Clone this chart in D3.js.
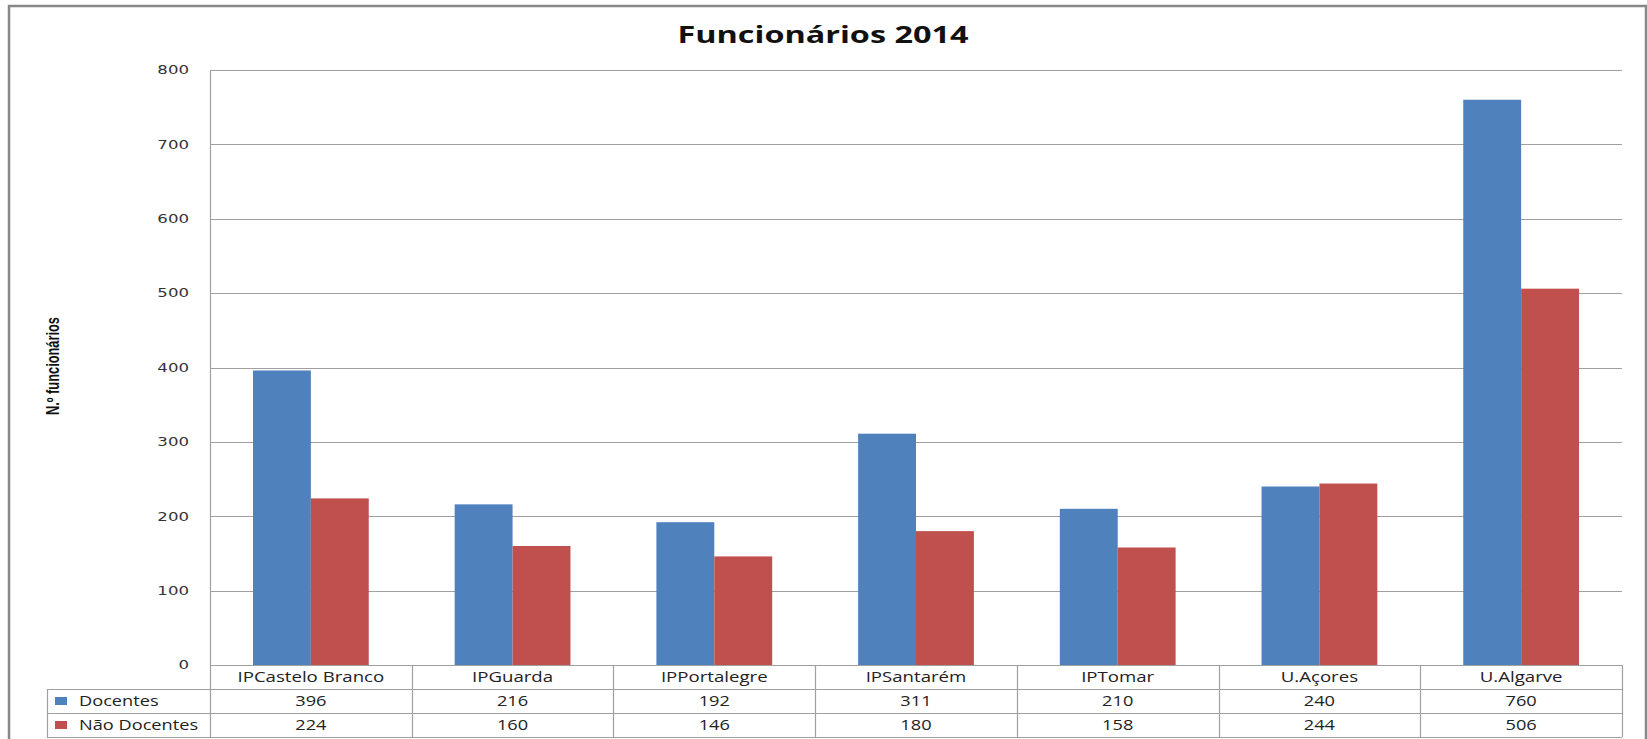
<!DOCTYPE html>
<html>
<head>
<meta charset="utf-8">
<script src="https://cdn.jsdelivr.net/npm/d3@7"></script>
<style>
  body { margin: 0; background: #fff; }
  svg { display: block; }
</style>
</head>
<body>
<div id="viz"></div>
<script>
var width = 1647,
    height = 739;

// data
var categories = ["IPCastelo Branco", "IPGuarda", "IPPortalegre", "IPSantarém", "IPTomar", "U.Açores", "U.Algarve"];
var seriesNames = ["Docentes", "Não Docentes"];
var docentes = [396, 216, 192, 311, 210, 240, 760];
var naoDocentes = [224, 160, 146, 180, 158, 244, 506];
var yTicks = [0, 100, 200, 300, 400, 500, 600, 700, 800];

var colors = {"Docentes": "#4F81BD", "Não Docentes": "#C0504D"};
var gridColor = "#a0a0a0";

// plot area (window.top is reserved, so no plain "top")
var plotLeft = 210, plotRight = 1622, plotTop = 70, plotBottom = 665;
var rowH = 24; // data table row height
var tableLeft = 47;

var svg = d3.select("#viz").append("svg")
    .attr("width", width)
    .attr("height", height);

// outer chart border
svg.append("rect")
    .attr("x", 9).attr("y", 6)
    .attr("width", 1637).attr("height", 745)
    .attr("fill", "#fff")
    .attr("stroke", "#888")
    .attr("stroke-width", 2.5);

var x = d3.scaleBand().domain(categories).range([plotLeft, plotRight]);
var bw = x.bandwidth();
var gap = bw * 0.213;
var x1 = d3.scaleBand().domain(seriesNames).range([gap, bw - gap]);
var y = d3.scaleLinear().domain([0, 800]).range([plotBottom, plotTop]);

// make text wider, the original picture is stretched horizontally
function stretch(sel, k) {
    sel.each(function() {
        var w = this.getComputedTextLength();
        d3.select(this).attr("textLength", w * k).attr("lengthAdjust", "spacingAndGlyphs");
    });
}

// gridlines
svg.append("g")
    .selectAll("line")
    .data(yTicks.filter(function(d) { return d > 0; }))
    .enter().append("line")
    .attr("x1", plotLeft).attr("x2", plotRight)
    .attr("y1", function(d) { return Math.round(y(d)) + 0.5; })
    .attr("y2", function(d) { return Math.round(y(d)) + 0.5; })
    .attr("stroke", gridColor)
    .attr("stroke-width", 1.2);

// tick labels
var tl = svg.append("g")
    .selectAll("text")
    .data(yTicks)
    .enter().append("text")
    .attr("x", 189)
    .attr("y", function(d) { return y(d); })
    .attr("dy", "0.36em")
    .attr("text-anchor", "end")
    .style("font-family", "'DejaVu Sans', Verdana, sans-serif")
    .style("font-size", "12px")
    .attr("fill", "#333")
    .text(function(d) { return d; });
stretch(tl, 1.38);

// bars
var rows = categories.map(function(c, i) {
    return {cat: c, values: [
        {key: "Docentes", value: docentes[i]},
        {key: "Não Docentes", value: naoDocentes[i]}
    ]};
});

svg.append("g")
    .selectAll("g")
    .data(rows)
    .enter().append("g")
    .attr("transform", function(d) { return "translate(" + x(d.cat) + ",0)"; })
    .selectAll("rect")
    .data(function(d) { return d.values; })
    .enter().append("rect")
    .attr("x", function(d) { return x1(d.key); })
    .attr("width", x1.bandwidth())
    .attr("y", function(d) { return y(d.value); })
    .attr("height", function(d) { return y(0) - y(d.value); })
    .attr("fill", function(d) { return colors[d.key]; });

// data table
var tbl = svg.append("g").attr("fill", "none").attr("stroke", gridColor).attr("stroke-width", 1.2);
// axis / top of table
tbl.append("line").attr("x1", plotLeft).attr("x2", plotRight)
    .attr("y1", plotBottom + 0.5).attr("y2", plotBottom + 0.5);
[1, 2, 3].forEach(function(r) {
    tbl.append("line")
        .attr("x1", tableLeft).attr("x2", plotRight)
        .attr("y1", plotBottom + r * rowH + 0.5).attr("y2", plotBottom + r * rowH + 0.5);
});
// vertical lines
tbl.append("line").attr("x1", plotLeft + 0.5).attr("x2", plotLeft + 0.5)
    .attr("y1", plotTop).attr("y2", plotBottom + 3 * rowH);
tbl.selectAll("line.col")
    .data(categories.slice(1).map(function(c) { return x(c); }).concat([plotRight]))
    .enter().append("line")
    .attr("class", "col")
    .attr("x1", function(d) { return Math.round(d) + 0.5; })
    .attr("x2", function(d) { return Math.round(d) + 0.5; })
    .attr("y1", plotBottom).attr("y2", plotBottom + 3 * rowH);
tbl.append("line").attr("x1", tableLeft + 0.5).attr("x2", tableLeft + 0.5)
    .attr("y1", plotBottom + rowH).attr("y2", plotBottom + 3 * rowH);

var fontTable = "'Open Sans', 'DejaVu Sans', sans-serif";

// category labels
var cl = svg.append("g")
    .selectAll("text")
    .data(categories)
    .enter().append("text")
    .attr("x", function(d) { return x(d) + bw / 2; })
    .attr("y", plotBottom + rowH / 2)
    .attr("dy", "0.35em")
    .attr("text-anchor", "middle")
    .style("font-family", fontTable)
    .style("font-size", "14px")
    .attr("fill", "#222")
    .text(function(d) { return d; });
stretch(cl, 1.33);

// value rows
[docentes, naoDocentes].forEach(function(vals, r) {
    var vt = svg.append("g")
        .selectAll("text")
        .data(vals)
        .enter().append("text")
        .attr("x", function(d, i) { return x(categories[i]) + bw / 2; })
        .attr("y", plotBottom + (r + 1) * rowH + rowH / 2)
        .attr("dy", "0.35em")
        .attr("text-anchor", "middle")
        .style("font-family", fontTable)
        .style("font-size", "14px")
        .attr("fill", "#222")
        .text(function(d) { return d; });
    stretch(vt, 1.3);

    // legend key
    svg.append("rect")
        .attr("x", 55)
        .attr("y", plotBottom + (r + 1) * rowH + rowH / 2 - 4)
        .attr("width", 12).attr("height", 8)
        .attr("fill", colors[seriesNames[r]]);
    var lt = svg.append("text")
        .attr("x", 79)
        .attr("y", plotBottom + (r + 1) * rowH + rowH / 2)
        .attr("dy", "0.35em")
        .style("font-family", fontTable)
        .style("font-size", "14px")
        .attr("fill", "#222")
        .text(seriesNames[r]);
    stretch(lt, 1.3);
});

// title
svg.append("text")
    .attr("x", 823)
    .attr("y", 43)
    .attr("text-anchor", "middle")
    .style("font-family", "'Open Sans', sans-serif")
    .style("font-weight", "bold")
    .style("font-size", "24px")
    .attr("fill", "#111")
    .attr("textLength", 291)
    .attr("lengthAdjust", "spacingAndGlyphs")
    .text("Funcionários 2014");

// y axis title
svg.append("text")
    .attr("transform", "translate(59,366) rotate(-90)")
    .attr("text-anchor", "middle")
    .style("font-family", "'Liberation Sans Narrow', 'Arial Narrow', sans-serif")
    .style("font-weight", "bold")
    .style("font-size", "18px")
    .attr("fill", "#111")
    .attr("textLength", 98)
    .attr("lengthAdjust", "spacingAndGlyphs")
    .text("N.º funcionários");
</script>
</body>
</html>
